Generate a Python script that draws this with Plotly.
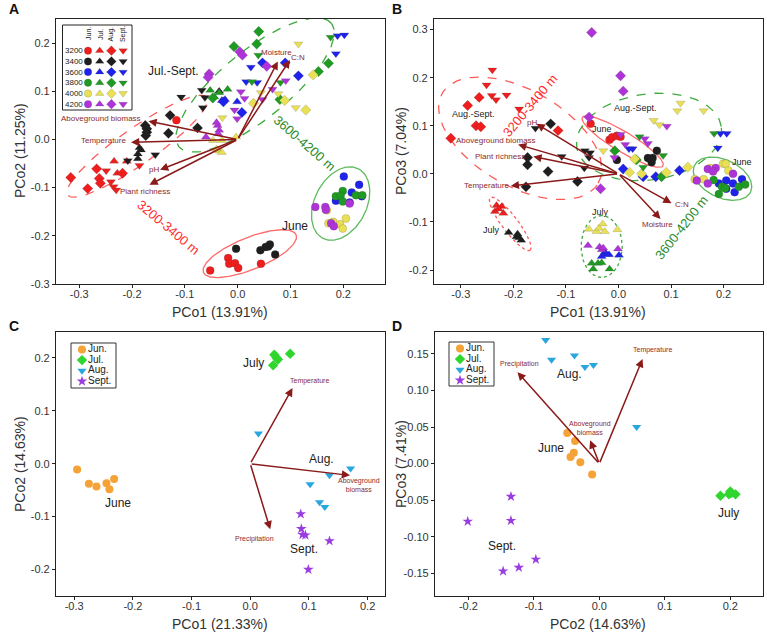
import numpy as np
import plotly.graph_objects as go

W, H = 767, 634
FONT = 'Arial, Liberation Sans, sans-serif'

ELEVS = ['3200', '3400', '3600', '3800', '4000', '4200']
MONTHS = ['Jun.', 'Jul.', 'Aug.', 'Sept.']
ELEV_COLORS = ['#EF1D1D', '#1E1E1E', '#1F22EB', '#1F9A22', '#E9E055', '#B033D9']
MONTH_SYMBOLS = ['circle', 'triangle-up', 'diamond', 'triangle-down']

# ---- panel A: PCo1 (13.91%) vs PCo2 (11.25%), points listed by elevation, N = count per elevation
A_JUN_N = [7, 6, 6, 6, 6, 6]
A_JUN_X = [-0.052, -0.018, -0.016, -0.005, 0.001, 0.044, -0.116,
           -0.003, 0.043, 0.053, 0.061, 0.071, 0.058,
           0.201, 0.230, 0.216, 0.235, 0.186, 0.212,
           0.199, 0.186, 0.195, 0.199, 0.224, 0.236,
           0.169, 0.172, 0.181, 0.194, 0.199, 0.205,
           0.147, 0.166, 0.167, 0.177, 0.182, 0.212]
A_JUN_Y = [-0.272, -0.246, -0.258, -0.257, -0.267, -0.258, 0.040,
           -0.227, -0.230, -0.223, -0.218, -0.239, -0.222,
           -0.077, -0.094, -0.110, -0.118, -0.127, -0.131,
           -0.107, -0.118, -0.117, -0.129, -0.116, -0.116,
           -0.147, -0.174, -0.171, -0.176, -0.185, -0.164,
           -0.140, -0.140, -0.146, -0.174, -0.180, -0.133]

A_JUL_N = [3, 5, 3, 4, 6, 5]
A_JUL_X = [-0.234, -0.228, -0.210,
           -0.186, -0.183, -0.189, -0.189, -0.035,
           -0.001, -0.030, -0.024,
           -0.052, -0.019, -0.044, -0.035,
           -0.047, -0.030, -0.035, -0.030, -0.003, -0.040,
           -0.038, -0.035, -0.037, -0.060, -0.040]
A_JUL_Y = [-0.045, -0.070, -0.045,
           -0.017, -0.022, -0.030, -0.040, 0.100,
           0.078, 0.081, 0.083,
           0.102, 0.104, 0.088, 0.097,
           -0.002, -0.002, -0.024, -0.027, 0.005, -0.020,
           0.029, 0.019, 0.012, 0.005, 0.035]

A_AUG_N = [6, 7, 5, 7, 4, 5]
A_AUG_X = [-0.316, -0.284, -0.267, -0.262, -0.260, -0.218,
           -0.175, -0.172, -0.172, -0.174, -0.128, -0.131, -0.076,
           0.047, 0.090, 0.115, 0.008, -0.027,
           0.040, -0.007, 0.036, 0.172, 0.153, 0.080, -0.047,
           0.129, 0.089, 0.143, 0.030,
           0.004, 0.009, -0.054, -0.056, 0.055]
A_AUG_Y = [-0.079, -0.102, -0.061, -0.081, -0.091, -0.070,
           0.029, 0.022, 0.015, 0.008, 0.050, 0.013, 0.024,
           0.159, 0.159, 0.132, 0.056, 0.078,
           0.224, 0.193, 0.198, 0.158, 0.141, 0.083, 0.086,
           0.061, 0.081, 0.134, 0.075,
           0.182, 0.175, 0.136, 0.129, 0.152]

A_SEP_N = [5, 6, 6, 4, 5, 7]
A_SEP_X = [-0.249, -0.240, -0.235, -0.230, -0.186,
           -0.156, -0.107, -0.068, -0.062, -0.066, -0.208,
           0.189, 0.202, 0.186, 0.025, 0.016, 0.037,
           0.039, 0.176, 0.027, 0.081,
           0.115, 0.110, 0.077, -0.029, 0.044,
           0.006, 0.013, -0.006, -0.001, 0.047, 0.066, 0.091]
A_SEP_Y = [-0.065, -0.088, -0.098, -0.105, -0.054,
           -0.032, 0.088, 0.102, 0.087, 0.066, -0.044,
           0.215, 0.217, 0.178, 0.150, 0.120, 0.118,
           0.175, 0.212, 0.120, 0.118,
           0.198, 0.066, 0.095, 0.045, 0.097,
           0.099, 0.085, 0.061, 0.043, 0.083, 0.104, 0.122]

A_VARS = ['Aboveground biomass', 'Temperature', 'pH', 'Plant richness', 'Moisture', 'C:N']
A_VAR_X = [-0.169, -0.202, -0.147, -0.167, 0.076, 0.099]
A_VAR_Y = [0.038, -0.006, -0.063, -0.094, 0.162, 0.165]

# ---- panel B: PCo1 (13.91%) vs PCo3 (7.04%)
B_JUN_N = [5, 5, 6, 6, 6, 6]
B_JUN_X = [-0.053, -0.017, -0.012, -0.003, 0.004,
           0.073, 0.056, 0.065, 0.063, -0.003,
           0.191, 0.205, 0.218, 0.235, 0.221, 0.205,
           0.197, 0.203, 0.229, 0.241, 0.191, 0.181,
           0.175, 0.199, 0.204, 0.209, 0.145, 0.162,
           0.149, 0.170, 0.170, 0.185, 0.218, 0.180]
B_JUN_Y = [0.104, 0.071, 0.076, 0.079, 0.077,
           0.048, 0.033, 0.033, 0.024, 0.029,
           -0.020, -0.014, -0.020, -0.011, -0.038, -0.031,
           -0.027, -0.030, -0.027, -0.022, -0.042, -0.013,
           0.012, 0.021, 0.021, 0.007, -0.011, -0.011,
           -0.014, 0.010, -0.020, 0.012, 0.000, 0.005]

B_JUL_N = [5, 5, 5, 5, 6, 5]
B_JUL_X = [-0.232, -0.222, -0.235, -0.219, -0.228,
           -0.209, -0.192, -0.189, -0.185, -0.194,
           -0.026, -0.023, -0.018, -0.032, 0.001,
           -0.051, -0.048, -0.039, -0.032, -0.017,
           -0.056, -0.042, -0.037, -0.030, -0.026, -0.002,
           -0.058, -0.036, -0.032, -0.029, -0.001]
B_JUL_Y = [-0.066, -0.068, -0.078, -0.082, -0.073,
           -0.122, -0.125, -0.133, -0.138, -0.131,
           -0.163, -0.167, -0.168, -0.172, -0.169,
           -0.186, -0.198, -0.186, -0.185, -0.198,
           -0.115, -0.120, -0.113, -0.104, -0.120, -0.116,
           -0.149, -0.152, -0.158, -0.154, -0.156]

B_AUG_N = [6, 6, 4, 3, 5, 5]
B_AUG_X = [-0.287, -0.265, -0.271, -0.262, -0.319, -0.115,
           -0.129, -0.173, -0.173, -0.134, -0.078, -0.176,
           0.009, 0.071, 0.116, 0.047,
           -0.007, 0.034, 0.082,
           0.132, 0.091, 0.044, 0.021, 0.031,
           -0.051, 0.004, 0.009, -0.056, -0.034]
B_AUG_Y = [0.142, 0.159, 0.100, 0.098, 0.074, 0.090,
           0.104, 0.034, 0.019, 0.005, -0.016, -0.027,
           0.010, -0.006, 0.007, -0.006,
           0.048, 0.029, -0.006,
           0.014, 0.003, 0.000, 0.003, 0.031,
           0.294, 0.204, 0.172, 0.118, -0.031]

B_SEP_N = [6, 6, 5, 4, 6, 6]
B_SEP_X = [-0.240, -0.251, -0.241, -0.233, -0.213, -0.189,
           -0.158, -0.108, -0.064, -0.056, -0.065, -0.054,
           0.020, 0.027, 0.194, 0.206, 0.189,
           0.040, 0.182, 0.085, 0.047,
           0.118, 0.112, 0.162, 0.067, 0.078, -0.029,
           0.004, 0.050, 0.056, 0.013, 0.092, -0.008]
B_SEP_Y = [0.216, 0.185, 0.163, 0.154, 0.164, 0.135,
           0.095, 0.036, 0.048, 0.034, 0.012, 0.044,
           0.052, 0.052, 0.084, 0.084, 0.054,
           0.077, 0.084, 0.038, 0.014,
           0.147, 0.131, 0.131, 0.111, 0.102, 0.048,
           0.082, 0.073, 0.063, 0.061, 0.099, 0.034]

B_VARS = ['pH', 'Aboveground biomass', 'Plant richness', 'Temperature', 'C:N', 'Moisture']
B_VAR_X = [-0.156, -0.191, -0.162, -0.205, 0.101, 0.080]
B_VAR_Y = [0.104, 0.061, 0.036, -0.025, -0.061, -0.094]

# ---- panel C: PCo1 (21.33%) vs PCo2 (14.63%)
C_JUN_X = [-0.295, -0.275, -0.262, -0.245, -0.232, -0.240]
C_JUN_Y = [-0.011, -0.038, -0.043, -0.037, -0.029, -0.048]
C_JUL_X = [0.039, 0.041, 0.045, 0.047, 0.068]
C_JUL_Y = [0.186, 0.206, 0.200, 0.197, 0.208]
C_AUG_X = [0.014, 0.171, 0.135, 0.102, 0.118, 0.127]
C_AUG_Y = [0.057, -0.009, -0.022, -0.039, -0.073, -0.082]
C_SEP_X = [0.086, 0.087, 0.089, 0.094, 0.135, 0.099]
C_SEP_Y = [-0.095, -0.123, -0.134, -0.135, -0.146, -0.200]
C_VARS = ['Temperature', 'Aboveground<br>biomass', 'Precipitation']
C_VAR_X = [0.072, 0.170, 0.034]
C_VAR_Y = [0.143, -0.022, -0.124]

# ---- panel D: PCo2 (14.63%) vs PCo3 (7.41%)
D_JUN_X = [-0.049, -0.037, -0.044, -0.039, -0.029, -0.011]
D_JUN_Y = [0.042, 0.031, 0.009, 0.015, 0.002, -0.015]
D_JUL_X = [0.185, 0.198, 0.200, 0.208, 0.202]
D_JUL_Y = [-0.044, -0.042, -0.038, -0.042, -0.040]
D_AUG_X = [-0.082, -0.073, -0.038, -0.022, -0.009, 0.057]
D_AUG_Y = [0.169, 0.142, 0.148, 0.132, 0.135, 0.050]
D_SEP_X = [-0.135, -0.201, -0.135, -0.097, -0.123, -0.147]
D_SEP_Y = [-0.045, -0.079, -0.078, -0.131, -0.142, -0.147]
D_VARS = ['Precipitation', 'Temperature', 'Aboveground<br>biomass']
D_VAR_X = [-0.125, 0.066, -0.014]
D_VAR_Y = [0.125, 0.143, 0.032]

MONTH_COLORS_CD = ['#F5A236', '#2ED62E', '#2AA6DE', '#9A3DE0']
MONTH_SYMBOLS_CD = ['circle', 'diamond', 'triangle-down', 'star']
ARROW_COL = '#8B1A1A'
LABEL_COL = '#8B2B2B'

# ---- layout geometry (pixels)
PANELS = {
    'A': dict(box=(56, 385, 19, 284), xr=[-0.344, 0.279], yr=[-0.30, 0.25]),
    'B': dict(box=(434, 763, 19, 284), xr=[-0.351, 0.275], yr=[-0.229, 0.322]),
    'C': dict(box=(56, 385, 332, 596), xr=[-0.331, 0.2296], yr=[-0.25, 0.249]),
    'D': dict(box=(435, 763, 332, 596), xr=[-0.251, 0.250], yr=[-0.181, 0.180]),
}
AX = {'A': ('x', 'y'), 'B': ('x2', 'y2'), 'C': ('x3', 'y3'), 'D': ('x4', 'y4')}


def px_scale(p):
    g = PANELS[p]
    l, r, t, b = g['box']
    return (r - l) / (g['xr'][1] - g['xr'][0]), (b - t) / (g['yr'][1] - g['yr'][0])


def ellipse(p, cx, cy, a, b, ang, color, dash, width=1.3):
    sx, sy = px_scale(p)
    t = np.linspace(0, 2 * np.pi, 160)
    th = np.radians(ang)
    u, v = a * np.cos(t), b * np.sin(t)
    xs = cx + (u * np.cos(th) - v * np.sin(th)) / sx
    ys = cy + (u * np.sin(th) + v * np.cos(th)) / sy
    xa, ya = AX[p]
    return go.Scatter(x=xs, y=ys, mode='lines', xaxis=xa, yaxis=ya, hoverinfo='skip',
                      line=dict(color=color, dash=dash, width=width), showlegend=False)


fig = go.Figure()

# confidence ellipses
fig.add_trace(ellipse('A', -0.190, -0.014, 85, 18, 35, '#FF5A5A', 'dash'))
fig.add_trace(ellipse('A', 0.033, 0.113, 98, 34, 39, '#3DAA3D', 'dash'))
fig.add_trace(ellipse('A', 0.023, -0.237, 50, 16, 22, '#FF6B6B', 'solid'))
fig.add_trace(ellipse('A', 0.195, -0.133, 39, 26, 63, '#5DBB5D', 'solid'))
fig.add_trace(ellipse('B', -0.187, 0.074, 90, 48, -30, '#FF5A5A', 'dash'))
fig.add_trace(ellipse('B', 0.058, 0.077, 73, 43, 8, '#3DAA3D', 'dash'))
fig.add_trace(ellipse('B', 0.008, 0.067, 47, 10, -31, '#FF6B6B', 'solid'))
fig.add_trace(ellipse('B', 0.198, -0.010, 31, 19, -25, '#5DBB5D', 'solid'))
fig.add_trace(ellipse('B', -0.206, -0.104, 33, 8, -53, '#FF5A5A', 'dot'))
fig.add_trace(ellipse('B', -0.032, -0.151, 31, 20.5, 90, '#3DAA3D', 'dot'))


def add_groups(p, months):
    xa, ya = AX[p]
    for m, (ns, xs, ys) in enumerate(months):
        i = 0
        for e, n in enumerate(ns):
            fig.add_trace(go.Scatter(
                x=xs[i:i + n], y=ys[i:i + n], mode='markers', xaxis=xa, yaxis=ya,
                name=f'{ELEVS[e]} {MONTHS[m]}', showlegend=False,
                marker=dict(symbol=MONTH_SYMBOLS[m], size=8, color=ELEV_COLORS[e],
                            line=dict(width=0.5, color='rgba(60,60,60,0.35)'))))
            i += n


add_groups('A', [(A_JUN_N, A_JUN_X, A_JUN_Y), (A_JUL_N, A_JUL_X, A_JUL_Y),
                 (A_AUG_N, A_AUG_X, A_AUG_Y), (A_SEP_N, A_SEP_X, A_SEP_Y)])
add_groups('B', [(B_JUN_N, B_JUN_X, B_JUN_Y), (B_JUL_N, B_JUL_X, B_JUL_Y),
                 (B_AUG_N, B_AUG_X, B_AUG_Y), (B_SEP_N, B_SEP_X, B_SEP_Y)])

for p, sets in [('C', [(C_JUN_X, C_JUN_Y), (C_JUL_X, C_JUL_Y), (C_AUG_X, C_AUG_Y), (C_SEP_X, C_SEP_Y)]),
                ('D', [(D_JUN_X, D_JUN_Y), (D_JUL_X, D_JUL_Y), (D_AUG_X, D_AUG_Y), (D_SEP_X, D_SEP_Y)])]:
    xa, ya = AX[p]
    for m, (xs, ys) in enumerate(sets):
        fig.add_trace(go.Scatter(
            x=xs, y=ys, mode='markers', xaxis=xa, yaxis=ya, name=MONTHS[m], showlegend=False,
            marker=dict(symbol=MONTH_SYMBOLS_CD[m], size=8,
                        color=MONTH_COLORS_CD[m], line=dict(width=0))))

annotations = []


def arrows(p, xs, ys):
    xa, ya = AX[p]
    for x, y in zip(xs, ys):
        annotations.append(dict(x=x, y=y, ax=0, ay=0, xref=xa, yref=ya, axref=xa, ayref=ya,
                                text='', showarrow=True, arrowhead=2, arrowsize=1.1,
                                arrowwidth=1.5, arrowcolor=ARROW_COL))


arrows('A', A_VAR_X, A_VAR_Y)
arrows('B', B_VAR_X, B_VAR_Y)
arrows('C', C_VAR_X, C_VAR_Y)
arrows('D', D_VAR_X, D_VAR_Y)


def label(p, x, y, text, size=8, color=LABEL_COL, angle=0, xanchor='center'):
    xa, ya = AX[p]
    annotations.append(dict(x=x, y=y, xref=xa, yref=ya, text=text, showarrow=False,
                            textangle=angle, xanchor=xanchor,
                            font=dict(family=FONT, size=size, color=color)))


# variable labels
label('A', -0.180, 0.044, A_VARS[0], xanchor='right')
label('A', -0.208, -0.002, A_VARS[1], xanchor='right')
label('A', -0.158, -0.063, A_VARS[2])
label('A', -0.175, -0.107, A_VARS[3])
label('A', 0.074, 0.181, A_VARS[4])
label('A', 0.115, 0.170, A_VARS[5])
label('B', -0.165, 0.107, B_VARS[0])
label('B', -0.233, 0.070, B_VARS[1])
label('B', -0.225, 0.036, B_VARS[2])
label('B', -0.252, -0.025, B_VARS[3])
label('B', 0.120, -0.064, B_VARS[4])
label('B', 0.075, -0.106, B_VARS[5])
label('C', 0.101, 0.157, C_VARS[0], size=7)
label('C', 0.186, -0.041, C_VARS[1], size=7)
label('C', 0.007, -0.142, C_VARS[2], size=7)
label('D', -0.122, 0.136, D_VARS[0], size=7)
label('D', 0.081, 0.155, D_VARS[1], size=7)
label('D', -0.014, 0.049, D_VARS[2], size=7)

# group labels
label('A', -0.122, 0.142, 'Jul.-Sept.', size=12, color='#222')
label('A', 0.109, -0.180, 'June', size=12, color='#222')
label('A', 0.127, -0.009, '3600-4200 m', size=13, color='#2A8A2A', angle=41)
label('A', -0.131, -0.183, '3200-3400 m', size=13, color='#FF2A2A', angle=40)
label('B', -0.276, 0.125, 'Aug.-Sept.', size=9, color='#222')
label('B', 0.033, 0.137, 'Aug.-Sept.', size=9, color='#222')
label('B', -0.032, 0.093, 'June', size=9, color='#222')
label('B', 0.235, 0.024, 'June', size=9, color='#222')
label('B', -0.241, -0.117, 'July', size=9, color='#222')
label('B', -0.034, -0.080, 'July', size=9, color='#222')
label('B', -0.168, 0.142, '3200-3400 m', size=13, color='#FF2A2A', angle=-50)
label('B', 0.120, -0.111, '3600-4200 m', size=13, color='#2A8A2A', angle=-52)
label('C', 0.006, 0.191, 'July', size=12, color='#222')
label('C', 0.122, 0.009, 'Aug.', size=12, color='#222')
label('C', -0.226, -0.075, 'June', size=12, color='#222')
label('C', 0.092, -0.162, 'Sept.', size=12, color='#222')
label('D', -0.046, 0.123, 'Aug.', size=12, color='#222')
label('D', -0.074, 0.022, 'June', size=12, color='#222')
label('D', 0.198, -0.067, 'July', size=12, color='#222')
label('D', -0.149, -0.113, 'Sept.', size=12, color='#222')


def paper_x(px):
    return px / W


def paper_y(py):
    return 1 - py / H


def ptext(x, y, text, size, angle=0, bold=False, xanchor='center', color='#333'):
    annotations.append(dict(x=paper_x(x), y=paper_y(y), xref='paper', yref='paper',
                            text=f'<b>{text}</b>' if bold else text, showarrow=False,
                            textangle=angle, xanchor=xanchor, yanchor='middle',
                            font=dict(family=FONT, size=size, color=color)))


# panel letters and axis titles
for letter, (x, y) in zip('ABCD', [(14, 9), (397, 9), (14, 326), (397, 326)]):
    ptext(x, y, letter, 14, bold=True, color='#111')
ptext(20, 151, 'PCo2 (11.25%)', 14, angle=-90)
ptext(220, 312, 'PCo1 (13.91%)', 14)
ptext(401, 151, 'PCo3 (7.04%)', 14, angle=-90)
ptext(598, 312, 'PCo1 (13.91%)', 14)
ptext(20, 464, 'PCo2 (14.63%)', 14, angle=-90)
ptext(220, 624, 'PCo1 (21.33%)', 14)
ptext(401, 464, 'PCo3 (7.41%)', 14, angle=-90)
ptext(598, 624, 'PCo2 (14.63%)', 14)

shapes = []

# legend of panel A: elevation x month grid
LA = (62.5, 132, 25, 110)
shapes.append(dict(type='rect', xref='paper', yref='paper', x0=paper_x(LA[0]), x1=paper_x(LA[1]),
                   y0=paper_y(LA[3]), y1=paper_y(LA[2]), line=dict(color='#222', width=1)))
for m in range(4):
    for e in range(6):
        fig.add_trace(go.Scatter(x=[25.5 + 11.7 * m], y=[25.7 + 10.7 * e], mode='markers',
                                 xaxis='x5', yaxis='y5', hoverinfo='skip', showlegend=False,
                                 marker=dict(symbol=MONTH_SYMBOLS[m], size=7.5, color=ELEV_COLORS[e],
                                             line=dict(width=0.5, color='rgba(60,60,60,0.35)'))))
    ptext(LA[0] + 25.5 + 11.7 * m, LA[2] + 9, MONTHS[m], 7, angle=-90, color='#222')
for e in range(6):
    ptext(LA[0] + 11, LA[2] + 25.7 + 10.7 * e, ELEVS[e], 8, color='#222')

# legends of panels C and D
for (bx0, bx1, by0, by1), xa, ya in [((71, 116, 343, 388), 'x6', 'y6'), ((449, 494, 342, 386), 'x7', 'y7')]:
    shapes.append(dict(type='rect', xref='paper', yref='paper', x0=paper_x(bx0), x1=paper_x(bx1),
                       y0=paper_y(by1), y1=paper_y(by0), line=dict(color='#333', width=1)))
    for m in range(4):
        fig.add_trace(go.Scatter(x=[11], y=[6.5 + 10.6 * m], mode='markers+text', text=[MONTHS[m]],
                                 textposition='middle right', xaxis=xa, yaxis=ya, hoverinfo='skip',
                                 showlegend=False, textfont=dict(family=FONT, size=10, color='#222'),
                                 marker=dict(symbol=MONTH_SYMBOLS_CD[m], size=8, color=MONTH_COLORS_CD[m])))


def fmt_ticks(vals, nd):
    return [f'{v:.{nd}f}' for v in vals]


axis_common = dict(showgrid=False, zeroline=False, showline=True, linecolor='#222', linewidth=1.2,
                   mirror=True, ticks='outside', ticklen=3, tickcolor='#222', automargin=False,
                   tickfont=dict(family=FONT, size=11, color='#333'))

TICKS = {
    'A': ([-0.3, -0.2, -0.1, 0.0, 0.1, 0.2], [-0.3, -0.2, -0.1, 0.0, 0.1, 0.2], 1),
    'B': ([-0.3, -0.2, -0.1, 0.0, 0.1, 0.2], [-0.2, -0.1, 0.0, 0.1, 0.2, 0.3], 1),
    'C': ([-0.3, -0.2, -0.1, 0.0, 0.1, 0.2], [-0.2, -0.1, 0.0, 0.1, 0.2], 1),
    'D': ([-0.2, -0.1, 0.0, 0.1, 0.2], [-0.15, -0.10, -0.05, 0.0, 0.05, 0.10, 0.15], 2),
}

layout_axes = {}
for k, p in enumerate('ABCD'):
    l, r, t, b = PANELS[p]['box']
    xt, yt, nd = TICKS[p]
    sfx = '' if k == 0 else str(k + 1)
    layout_axes['xaxis' + sfx] = dict(axis_common, domain=[l / W, r / W], range=PANELS[p]['xr'],
                                      anchor='y' + sfx, tickvals=xt, ticktext=fmt_ticks(xt, 1),
                                      ticklabelstandoff=-3)
    layout_axes['yaxis' + sfx] = dict(axis_common, domain=[1 - b / H, 1 - t / H], range=PANELS[p]['yr'],
                                      anchor='x' + sfx, tickvals=yt, ticktext=fmt_ticks(yt, nd))

hidden = dict(visible=False, showgrid=False, zeroline=False, fixedrange=True, automargin=False)
layout_axes['xaxis5'] = dict(hidden, domain=[LA[0] / W, LA[1] / W], range=[0, LA[1] - LA[0]], anchor='y5')
layout_axes['yaxis5'] = dict(hidden, domain=[1 - LA[3] / H, 1 - LA[2] / H], range=[LA[3] - LA[2], 0], anchor='x5')
layout_axes['xaxis6'] = dict(hidden, domain=[71 / W, 116 / W], range=[0, 45], anchor='y6')
layout_axes['yaxis6'] = dict(hidden, domain=[1 - 388 / H, 1 - 343 / H], range=[45, 0], anchor='x6')
layout_axes['xaxis7'] = dict(hidden, domain=[449 / W, 494 / W], range=[0, 45], anchor='y7')
layout_axes['yaxis7'] = dict(hidden, domain=[1 - 386 / H, 1 - 342 / H], range=[44, 0], anchor='x7')

fig.update_layout(
    width=W, height=H, margin=dict(l=0, r=0, t=0, b=0, autoexpand=False),
    plot_bgcolor='white', paper_bgcolor='white', showlegend=False,
    font=dict(family=FONT, color='#333'),
    annotations=annotations, shapes=shapes, **layout_axes)

# the page body has a default 8px margin; drop it so the figure fills the window
fig.write_html('out.html', config={'displayModeBar': False},
               post_script="document.body.style.margin='0px';")
